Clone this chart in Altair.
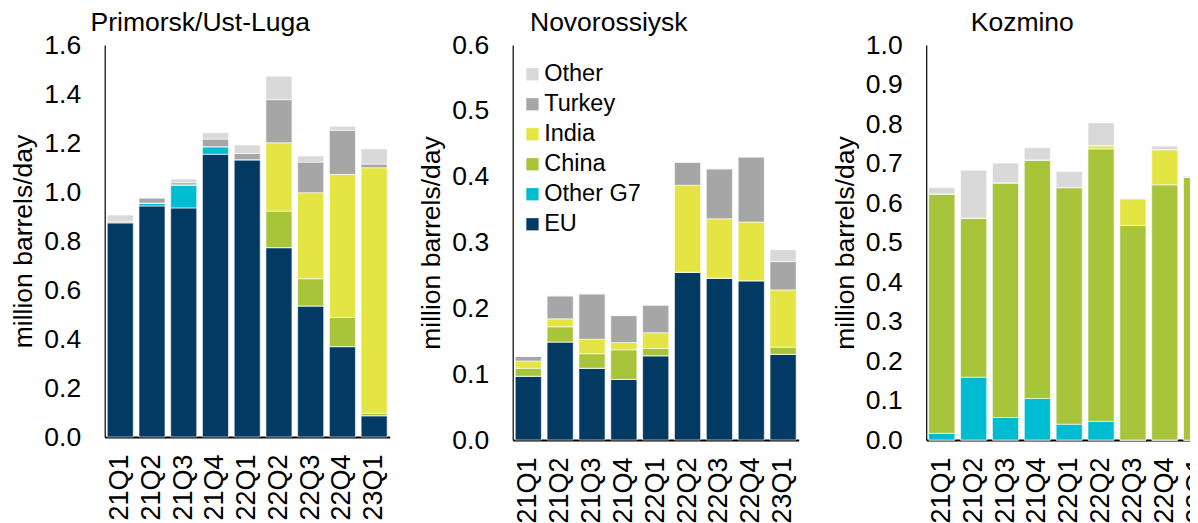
import altair as alt
import pandas as pd

quarters = ["21Q1", "21Q2", "21Q3", "21Q4", "22Q1", "22Q2", "22Q3", "22Q4", "23Q1"]
series_stack = ["EU", "Other G7", "China", "India", "Turkey", "Other"]
legend_order = ["Other", "Turkey", "India", "China", "Other G7", "EU"]
colors = {"EU": "#023a63", "Other G7": "#00bcd0", "China": "#a8c43b",
          "India": "#e4e443", "Turkey": "#a6a6a6", "Other": "#d9d9d9"}

ports = ["Primorsk/Ust-Luga", "Novorossiysk", "Kozmino"]

primorsk = {
    "EU":       [0.875, 0.943, 0.935, 1.154, 1.132, 0.773, 0.535, 0.369, 0.087],
    "Other G7": [0.0, 0.012, 0.094, 0.031, 0.0, 0.0, 0.0, 0.0, 0.0],
    "China":    [0.0, 0.0, 0.0, 0.0, 0.0, 0.149, 0.111, 0.119, 0.010],
    "India":    [0.0, 0.0, 0.0, 0.0, 0.0, 0.279, 0.351, 0.584, 1.002],
    "Turkey":   [0.005, 0.021, 0.009, 0.031, 0.025, 0.176, 0.125, 0.180, 0.015],
    "Other":    [0.026, 0.0, 0.015, 0.026, 0.035, 0.096, 0.025, 0.016, 0.062],
}
novorossiysk = {
    "EU":       [0.097, 0.149, 0.109, 0.092, 0.128, 0.255, 0.246, 0.242, 0.130],
    "Other G7": [0.0, 0.0, 0.0, 0.0, 0.0, 0.0, 0.0, 0.0, 0.0],
    "China":    [0.012, 0.023, 0.022, 0.045, 0.011, 0.0, 0.0, 0.0, 0.011],
    "India":    [0.011, 0.012, 0.022, 0.011, 0.024, 0.132, 0.090, 0.089, 0.087],
    "Turkey":   [0.007, 0.035, 0.069, 0.041, 0.042, 0.035, 0.076, 0.099, 0.043],
    "Other":    [0.0, 0.0, 0.0, 0.0, 0.0, 0.0, 0.0, 0.0, 0.018],
}
kozmino = {
    "EU":       [0.0, 0.0, 0.0, 0.0, 0.0, 0.0, 0.0, 0.0, 0.0],
    "Other G7": [0.017, 0.159, 0.057, 0.105, 0.040, 0.047, 0.0, 0.0, 0.0],
    "China":    [0.606, 0.403, 0.594, 0.604, 0.599, 0.690, 0.543, 0.646, 0.665],
    "India":    [0.0, 0.0, 0.0, 0.0, 0.0, 0.008, 0.068, 0.089, 0.0],
    "Turkey":   [0.0, 0.0, 0.0, 0.0, 0.0, 0.0, 0.0, 0.0, 0.0],
    "Other":    [0.016, 0.121, 0.050, 0.031, 0.041, 0.058, 0.0, 0.009, 0.003],
}
port_data = {"Primorsk/Ust-Luga": primorsk, "Novorossiysk": novorossiysk, "Kozmino": kozmino}
y_max = {"Primorsk/Ust-Luga": 1.6, "Novorossiysk": 0.6, "Kozmino": 1.0}
y_step = {"Primorsk/Ust-Luga": 0.2, "Novorossiysk": 0.1, "Kozmino": 0.1}
panel_h = {"Primorsk/Ust-Luga": 392, "Novorossiysk": 395, "Kozmino": 395}
panel_w = {"Primorsk/Ust-Luga": 285, "Novorossiysk": 286, "Kozmino": 286}

rows = []
for p in ports:
    for s_i, s in enumerate(series_stack):
        for q, v in zip(quarters, port_data[p][s]):
            rows.append({"port": p, "quarter": q, "series": s, "order": s_i, "value": v})
df = pd.DataFrame(rows)

FONT = "Liberation Sans"


def panel(p, show_legend):
    n = int(round(y_max[p] / y_step[p]))
    ticks = [round(i * y_step[p], 2) for i in range(n + 1)]
    if show_legend:
        legend = alt.Legend(
            title=None, orient="none", legendX=8, legendY=17.5,
            symbolType="square", symbolSize=150, symbolStrokeWidth=0,
            labelFontSize=23.5, labelFont=FONT, labelColor="black",
            labelOffset=0, rowPadding=5, padding=0,
        )
    else:
        legend = None
    return alt.Chart(df).transform_filter(alt.datum.port == p).mark_bar(
        stroke="white", strokeWidth=0.6
    ).encode(
        x=alt.X("quarter:N", sort=quarters, title=None,
                scale=alt.Scale(paddingInner=0.18, paddingOuter=0.08),
                axis=alt.Axis(labelAngle=-90, labelFontSize=27, labelFont=FONT,
                              labelColor="black", ticks=False, labelPadding=17,
                              domainColor="black", domainWidth=2)),
        y=alt.Y("value:Q", title="million barrels/day",
                scale=alt.Scale(domain=[0, y_max[p]], nice=False),
                axis=alt.Axis(values=ticks, format=".1f", grid=False, ticks=False,
                              labelFontSize=26.5, labelFont=FONT, labelColor="black",
                              labelPadding=24, titleFontSize=26.5, titleFont=FONT,
                              titleFontWeight="normal", titleColor="black",
                              titlePadding=6, domainColor="black", domainWidth=1.2)),
        color=alt.Color("series:N", scale=alt.Scale(domain=legend_order,
                        range=[colors[s] for s in legend_order]), legend=legend),
        order=alt.Order("order:Q", sort="ascending"),
    ).properties(
        width=panel_w[p], height=panel_h[p],
        title=alt.TitleParams(p, fontSize=26.5, font=FONT, fontWeight="normal",
                              color="black", anchor="middle", frame="bounds", offset=-4),
    )


left_pair = alt.hconcat(
    panel(ports[0], False), panel(ports[1], True), spacing=29
).resolve_scale(color="independent").resolve_legend(color="independent")

chart = alt.hconcat(left_pair, panel(ports[2], False), spacing=33.5).resolve_scale(
    color="independent"
).resolve_legend(color="independent").configure_view(
    stroke=None
).properties(
    autosize=alt.AutoSizeParams(type="none"),
    padding={"left": 96.7, "top": 37, "right": 1085.3, "bottom": 478},
)

chart.save("out.html", embed_options={"renderer": "svg", "actions": False})
